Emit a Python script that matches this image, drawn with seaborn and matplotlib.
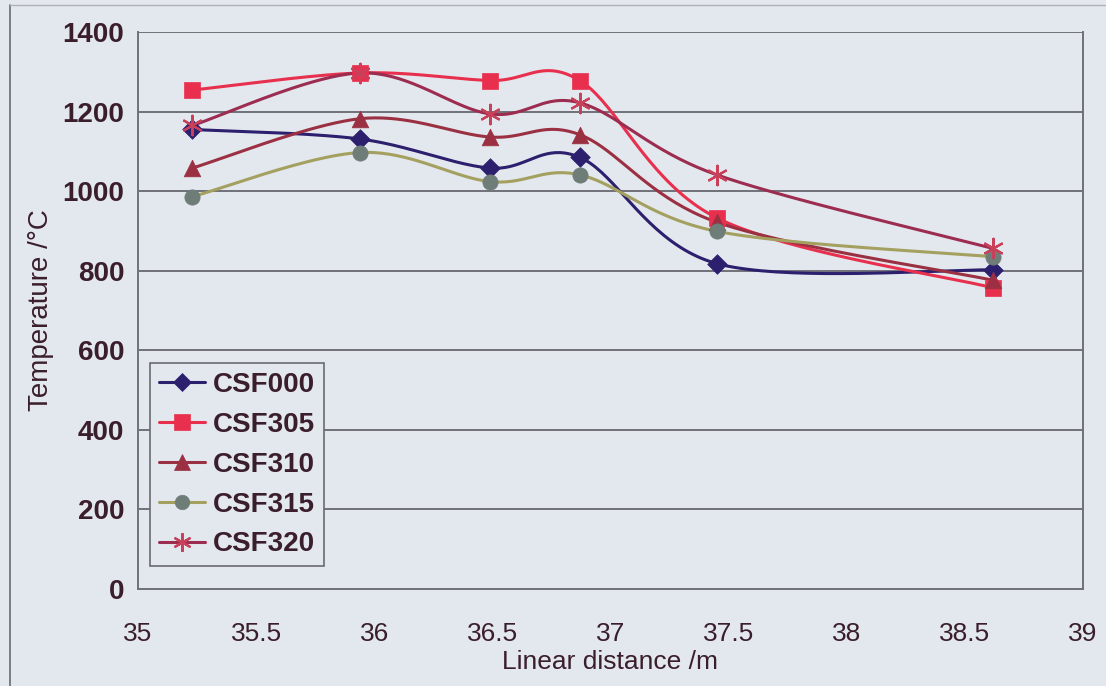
import numpy as np
import pandas as pd
import matplotlib
matplotlib.use("Agg")
import matplotlib.pyplot as plt
from matplotlib.lines import Line2D
import seaborn as sns

# Measured positions along the furnace (m)
distance = [35.23, 35.94, 36.49, 36.87, 37.45, 38.62]

# Temperatures (°C) for each run
csf000 = [1155, 1131, 1058, 1085, 818, 802]
csf305 = [1254, 1297, 1278, 1278, 933, 757]
csf310 = [1058, 1182, 1136, 1142, 922, 776]
csf315 = [986, 1097, 1024, 1041, 899, 835]
csf320 = [1165, 1297, 1194, 1222, 1041, 856]

series_names = ["CSF000", "CSF305", "CSF310", "CSF315", "CSF320"]
series_values = [csf000, csf305, csf310, csf315, csf320]

x_ticks = [35, 35.5, 36, 36.5, 37, 37.5, 38, 38.5, 39]
y_ticks = [0, 200, 400, 600, 800, 1000, 1200, 1400]

line_colors = ["#2c1f6e", "#e8304e", "#9a3042", "#a4a060", "#9c2c50"]
marker_face = ["#2c1f6e", "#e8304e", "#9a3042", "#6f7d78", "#c8405a"]
markers = ["D", "s", "^", "o", (6, 2, 0)]
marker_sizes = [10, 12, 12, 11, 14]

text_color = "#3a1e2c"
bg = "#e3e8ee"


def smooth_curve(xs, ys, steps=40):
    """Bezier smoothing through the points (spreadsheet-style smoothed line)."""
    p = np.column_stack([xs, ys]).astype(float)
    n = len(p)
    out = []
    for i in range(n - 1):
        p0 = p[max(i - 1, 0)]
        p1 = p[i]
        p2 = p[i + 1]
        p3 = p[min(i + 2, n - 1)]
        c1 = p1 + (p2 - p0) / 6.0
        c2 = p2 - (p3 - p1) / 6.0
        t = np.linspace(0, 1, steps, endpoint=(i == n - 2))[:, None]
        seg = ((1 - t) ** 3) * p1 + 3 * ((1 - t) ** 2) * t * c1 \
            + 3 * (1 - t) * t ** 2 * c2 + t ** 3 * p2
        out.append(seg)
    out = np.vstack(out)
    return out[:, 0], out[:, 1]


sns.set_theme(style="white")
plt.rcParams["font.family"] = ["Liberation Sans", "DejaVu Sans"]
plt.rcParams["text.color"] = text_color
plt.rcParams["axes.labelcolor"] = text_color
plt.rcParams["xtick.color"] = text_color
plt.rcParams["ytick.color"] = text_color

fig = plt.figure(figsize=(11.06, 6.86), dpi=100, facecolor=bg)
ax = fig.add_axes([0.1248, 0.1414, 0.979 - 0.1248, 0.9534 - 0.1414])
ax.set_facecolor(bg)

# chart frame at the left and top of the figure
fig.add_artist(Line2D([0.009, 0.009], [0.0, 0.992], transform=fig.transFigure,
                      color="#6a6a70", lw=1.2))
fig.add_artist(Line2D([0.009, 1.0], [0.992, 0.992], transform=fig.transFigure,
                      color="#b0b0b8", lw=1.0))

for name, vals, lc, mf, mk, ms in zip(series_names, series_values, line_colors,
                                      marker_face, markers, marker_sizes):
    sx, sy = smooth_curve(distance, vals)
    curve = pd.DataFrame({"x": sx, "y": sy})
    sns.lineplot(data=curve, x="x", y="y", ax=ax, color=lc, lw=2.2,
                 sort=False, estimator=None, zorder=3)
    pts = pd.DataFrame({"x": distance, "y": vals})
    if isinstance(mk, tuple):
        sns.scatterplot(data=pts, x="x", y="y", ax=ax, marker=mk, s=ms ** 2,
                        color=mf, edgecolor=mf, linewidth=1.6, zorder=4)
    else:
        sns.scatterplot(data=pts, x="x", y="y", ax=ax, marker=mk, s=ms ** 2,
                        color=mf, edgecolor=mf, linewidth=0.5, zorder=4)

ax.set_xlim(35, 39)
ax.set_ylim(0, 1400)
ax.set_xticks(x_ticks)
ax.set_xticklabels([f"{t:g}" for t in x_ticks], fontsize=19)
ax.set_yticks(y_ticks)
ax.set_yticklabels([str(t) for t in y_ticks], fontsize=20, fontweight="bold")

ax.yaxis.grid(True, color="#707078", lw=1.4)
ax.xaxis.grid(False)
ax.set_axisbelow(True)

for side in ["left", "bottom", "right"]:
    ax.spines[side].set_visible(True)
    ax.spines[side].set_color("#707078")
    ax.spines[side].set_linewidth(1.4)
ax.spines["top"].set_visible(False)

ax.tick_params(axis="y", direction="inout", length=12, width=1.2,
               colors="#707078", labelcolor=text_color, pad=4)
ax.tick_params(axis="x", direction="out", length=8, width=1.2,
               colors="#707078", labelcolor=text_color, pad=16)

ax.set_xlabel("Linear distance /m", fontsize=19, labelpad=3)
ax.set_ylabel("Temperature /°C", fontsize=20, labelpad=6)

handles = []
for name, lc, mf, mk, ms in zip(series_names, line_colors, marker_face,
                                markers, marker_sizes):
    handles.append(Line2D([0], [0], color=lc, lw=2.2, marker=mk,
                          markersize=ms * 0.95, markerfacecolor=mf,
                          markeredgecolor=mf,
                          markeredgewidth=1.6 if isinstance(mk, tuple) else 0.5))
leg = ax.legend(handles, series_names, loc="upper left",
                bbox_to_anchor=(0.0127, 0.4057),
                prop={"size": 20, "weight": "bold"}, frameon=True,
                fancybox=False, shadow=False, handlelength=1.65,
                handletextpad=0.3, labelspacing=0.5, borderpad=0.32,
                borderaxespad=0.0)
leg.get_frame().set_facecolor(bg)
leg.get_frame().set_edgecolor("#6a6a70")
leg.get_frame().set_linewidth(1.2)
leg.get_frame().set_alpha(1.0)

fig.savefig("out.png", dpi=100, facecolor=bg)
